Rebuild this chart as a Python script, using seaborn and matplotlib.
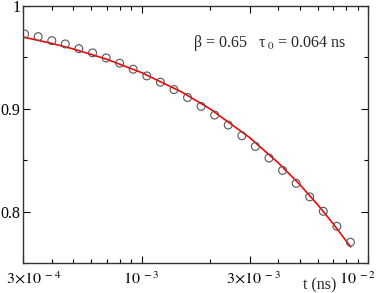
import matplotlib
matplotlib.use("Agg")
import matplotlib.pyplot as plt
import matplotlib.ticker as mticker
import matplotlib.transforms as mtransforms
import seaborn as sns

# measured points (t in ns, normalised correlation)
t_data = [3.04e-4, 3.49e-4, 4.01e-4, 4.60e-4, 5.28e-4, 6.07e-4, 6.97e-4, 8.00e-4,
          9.18e-4, 1.054e-3, 1.211e-3, 1.390e-3, 1.596e-3, 1.832e-3, 2.104e-3,
          2.415e-3, 2.773e-3, 3.184e-3, 3.656e-3, 4.198e-3, 4.819e-3, 5.534e-3,
          6.353e-3, 7.295e-3, 8.375e-3]
c_data = [0.9728, 0.9702, 0.9663, 0.9631, 0.9585, 0.9544, 0.9495, 0.9444,
          0.9385, 0.9320, 0.9259, 0.9187, 0.9110, 0.9024, 0.8939,
          0.8842, 0.8738, 0.8634, 0.8521, 0.8401, 0.8275, 0.8143,
          0.8003, 0.7857, 0.7702]

# fitted curve
t_fit = [3.0e-4, 4e-4, 5e-4, 7e-4, 1e-3, 1.5e-3, 2e-3, 3e-3, 4e-3, 5e-3, 6e-3, 7e-3, 8.4e-3]
c_fit = [0.9698, 0.9637, 0.9582, 0.9483, 0.9352, 0.9165, 0.9002, 0.8721,
         0.8479, 0.8264, 0.8068, 0.7887, 0.7656]

xtick_pos = [3e-4, 1e-3, 3e-3, 1e-2]
xtick_labels = [r"$3{\times}10^{\ -4}$", r"$10^{\ -3}$", r"$3{\times}10^{\ -3}$", r"$10^{\ -2}$"]
ytick_pos = [0.8, 0.9, 1.0]
ytick_labels = ["0.8", "0.9", "1"]

sns.set_style("ticks")
plt.rcParams["font.family"] = ["Liberation Serif", "DejaVu Serif"]
plt.rcParams["mathtext.fontset"] = "stix"

fig = plt.figure(figsize=(3.82, 2.93), dpi=100)
ax = fig.add_axes([0.061, 0.1024, 0.902, 0.8771])

sns.lineplot(x=t_fit, y=c_fit, ax=ax, color="red", linewidth=1.2, zorder=2)
sns.scatterplot(x=t_data, y=c_data, ax=ax, marker="o", s=32, facecolor="none",
                edgecolor="#555555", linewidth=0.8, zorder=3)

ax.set_xscale("log")
ax.set_xlim(3e-4, 1e-2)
ax.set_ylim(0.75, 1.0)

ax.xaxis.set_major_locator(mticker.FixedLocator(xtick_pos))
ax.xaxis.set_major_formatter(mticker.FixedFormatter(xtick_labels))
ax.xaxis.set_minor_locator(mticker.LogLocator(base=10, subs=range(2, 10)))
ax.xaxis.set_minor_formatter(mticker.NullFormatter())
ax.set_yticks(ytick_pos)
ax.set_yticklabels(ytick_labels)
ax.yaxis.set_minor_locator(mticker.FixedLocator([0.75, 0.85, 0.95]))

ax.tick_params(which="both", direction="in", top=True, right=True, labelsize=11.5,
               colors="black", width=0.8)
ax.tick_params(which="major", length=5)
ax.tick_params(which="minor", length=3)
ax.tick_params(axis="x", pad=6)
ax.tick_params(axis="y", pad=2)

# nudge the end labels so they stay inside the figure
shifts = [10, 0, 4, -10]
for tick, dx in zip(ax.xaxis.get_major_ticks(), shifts):
    off = mtransforms.ScaledTranslation(dx / 100, 0, fig.dpi_scale_trans)
    tick.label1.set_transform(tick.label1.get_transform() + off)

for s in ax.spines.values():
    s.set_linewidth(1.0)
    s.set_color("#333333")

ax.set_xlabel("t (ns)", fontsize=11.5)
ax.xaxis.set_label_coords(0.861, -0.055)
ax.set_ylabel("")

ax.text(0.716, 0.856, r"β = 0.65   τ$_{\ 0}$ = 0.064 ns", transform=ax.transAxes,
        ha="center", va="center", fontsize=11.5)

fig.savefig("out.png", dpi=100)
